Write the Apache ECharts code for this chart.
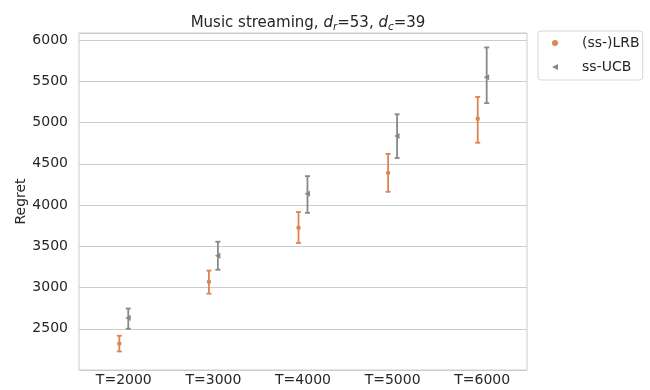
<!DOCTYPE html>
<html>
<head>
<meta charset="utf-8">
<script src="https://cdn.jsdelivr.net/npm/echarts@6/dist/echarts.min.js"></script>
<style>
  html, body { margin: 0; padding: 0; background: #fff; }
  #chart { width: 650px; height: 390px; }
</style>
</head>
<body>
<div id="chart"></div>
<script>
// categories on the x axis
const categories = ['T=2000', 'T=3000', 'T=4000', 'T=5000', 'T=6000'];

// (ss-)LRB: lower end, mean, upper end of each error bar
const lrbLow = [2225, 2925, 3540, 4160, 4755];
const lrbMean = [2320, 3070, 3725, 4390, 5045];
const lrbHigh = [2415, 3205, 3915, 4620, 5310];

// ss-UCB
const ucbLow = [2500, 3215, 3905, 4570, 5235];
const ucbMean = [2630, 3385, 4135, 4835, 5550];
const ucbHigh = [2745, 3555, 4350, 5100, 5910];

const yTicks = [2500, 3000, 3500, 4000, 4500, 5000, 5500, 6000];

const ORANGE = '#dd8452';
const GRAY = '#888888';
const TEXT = '#262626';
const FONT = 'DejaVu Sans';
const FS = 14;

const chart = echarts.init(document.getElementById('chart'));

// builds rows [categoryIndex, low, mean, high] for a custom series
const buildRows = (low, mean, high) => categories.map((c, i) => [i, low[i], mean[i], high[i]]);

// error bar with caps and a marker, shifted sideways (seaborn dodge)
const errorBar = (color, shift, marker) => (params, api) => {
  const idx = api.value(0);
  const band = api.size([1, 0])[0];
  const dx = band * shift;
  const lo = api.coord([idx, api.value(1)]);
  const mid = api.coord([idx, api.value(2)]);
  const hi = api.coord([idx, api.value(3)]);
  const x = lo[0] + dx;
  const cap = 2.5;
  const lineStyle = { stroke: color, lineWidth: 1.8 };
  const children = [
    { type: 'line', shape: { x1: x, y1: lo[1], x2: x, y2: hi[1] }, style: lineStyle },
    { type: 'line', shape: { x1: x - cap, y1: lo[1], x2: x + cap, y2: lo[1] }, style: lineStyle },
    { type: 'line', shape: { x1: x - cap, y1: hi[1], x2: x + cap, y2: hi[1] }, style: lineStyle },
  ];
  if (marker === 'circle') {
    children.push({ type: 'circle', shape: { cx: x, cy: mid[1], r: 2.2 }, style: { fill: color } });
  } else {
    children.push({
      type: 'polygon',
      shape: { points: [[x - 3, mid[1]], [x + 2.5, mid[1] - 3], [x + 2.5, mid[1] + 3]] },
      style: { fill: color },
    });
  }
  return { type: 'group', children };
};

const titleText = { fontFamily: FONT, fontSize: 15, color: TEXT, fontWeight: 'normal', lineHeight: 19 };

const option = {
  animation: false,
  textStyle: { fontFamily: FONT },
  title: {
    text: '{n|Music streaming, }{i|d}{s|r}{n|=53, }{i|d}{s|c}{n|=39}',
    left: 303,
    textAlign: 'center',
    top: 9,
    textStyle: {
      fontWeight: 'normal',
      fontSize: 15,
      rich: {
        n: titleText,
        i: { ...titleText, fontStyle: 'italic' },
        s: { ...titleText, fontSize: 10.5, fontStyle: 'italic', verticalAlign: 'bottom', padding: [7, 0, 0, 0] },
      },
    },
  },
  legend: {
    orient: 'vertical',
    left: 538,
    top: 31,
    padding: [5, 3, 6, 14],
    itemGap: 10,
    itemWidth: 8,
    itemHeight: 6,
    backgroundColor: '#fff',
    borderColor: '#d6d6d6',
    borderWidth: 1,
    borderRadius: 3,
    textStyle: { fontFamily: FONT, fontSize: FS, color: TEXT, padding: [0, 0, 0, 18] },
    data: [
      { name: '(ss-)LRB', icon: 'circle', itemStyle: { color: ORANGE } },
      { name: 'ss-UCB', icon: 'path://M0,5 L10,0 L10,10 Z', itemStyle: { color: GRAY } },
    ],
  },
  grid: {
    left: 79,
    right: 123,
    top: 33,
    bottom: 20,
    show: true,
    borderColor: '#cccccc',
    borderWidth: 1,
  },
  xAxis: {
    type: 'category',
    data: categories,
    boundaryGap: true,
    axisLine: { show: false },
    axisTick: { show: false },
    splitLine: { show: false },
    axisLabel: { fontFamily: FONT, fontSize: FS, color: TEXT, margin: 3 },
  },
  yAxis: {
    type: 'value',
    min: 2000,
    max: 6085,
    interval: 500,
    name: 'Regret',
    nameLocation: 'middle',
    nameGap: 51,
    nameMoveOverlap: false,
    nameTextStyle: { fontFamily: FONT, fontSize: FS, color: TEXT },
    axisLine: { show: false },
    axisTick: { show: false },
    axisLabel: {
      fontFamily: FONT,
      fontSize: FS,
      color: TEXT,
      margin: 11,
      showMinLabel: false,
      showMaxLabel: false,
      formatter: (v) => (yTicks.includes(v) ? String(v) : ''),
    },
    splitLine: { lineStyle: { color: '#cccccc', width: 1 } },
  },
  series: [
    {
      name: '(ss-)LRB',
      type: 'custom',
      itemStyle: { color: ORANGE },
      renderItem: errorBar(ORANGE, -0.05, 'circle'),
      encode: { x: 0, y: [1, 2, 3] },
      data: buildRows(lrbLow, lrbMean, lrbHigh),
      z: 3,
    },
    {
      name: 'ss-UCB',
      type: 'custom',
      itemStyle: { color: GRAY },
      renderItem: errorBar(GRAY, 0.05, 'triangle'),
      encode: { x: 0, y: [1, 2, 3] },
      data: buildRows(ucbLow, ucbMean, ucbHigh),
      z: 3,
    },
  ],
};

chart.setOption(option);
</script>
</body>
</html>
